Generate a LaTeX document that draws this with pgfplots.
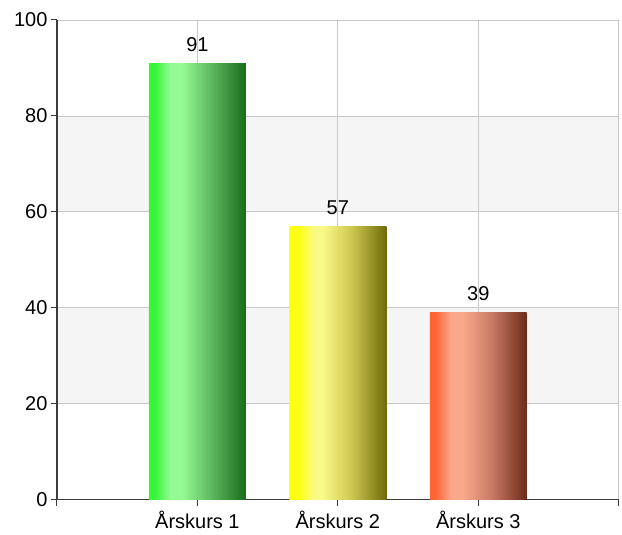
\documentclass[border=0pt]{standalone}
\usepackage{fontspec}
\setmainfont{Liberation Sans}
\usepackage{pgfplots}
\pgfplotsset{compat=1.18}

\definecolor{gridgray}{RGB}{200,200,200}
\definecolor{bandgray}{RGB}{245,245,245}
\definecolor{axisdark}{RGB}{60,60,60}

% bar gradients, left to right
\definecolor{gA}{RGB}{55,245,55}
\definecolor{gB}{RGB}{148,250,148}
\definecolor{gC}{RGB}{95,185,95}
\definecolor{gD}{RGB}{25,108,25}
\definecolor{yA}{RGB}{255,255,20}
\definecolor{yB}{RGB}{250,250,135}
\definecolor{yC}{RGB}{205,200,80}
\definecolor{yD}{RGB}{110,108,10}
\definecolor{rA}{RGB}{255,100,55}
\definecolor{rB}{RGB}{250,168,140}
\definecolor{rC}{RGB}{200,122,100}
\definecolor{rD}{RGB}{108,42,24}

\pgfdeclarehorizontalshading{greenbar}{100bp}{color(0bp)=(gA); color(25bp)=(gA); color(28bp)=(gA); color(36bp)=(gB); color(42bp)=(gB); color(57bp)=(gC); color(75bp)=(gD); color(100bp)=(gD)}
\pgfdeclarehorizontalshading{yellowbar}{100bp}{color(0bp)=(yA); color(25bp)=(yA); color(30bp)=(yA); color(38bp)=(yB); color(42bp)=(yB); color(57bp)=(yC); color(75bp)=(yD); color(100bp)=(yD)}
\pgfdeclarehorizontalshading{redbar}{100bp}{color(0bp)=(rA); color(25bp)=(rA); color(28bp)=(rA); color(36bp)=(rB); color(42bp)=(rB); color(57bp)=(rC); color(75bp)=(rD); color(100bp)=(rD)}

\begin{document}
\begin{tikzpicture}
\begin{axis}[
    set layers,
    scale only axis,
    width=562bp, height=480bp,
    xmin=0, xmax=4,
    ymin=0, ymax=100,
    xtick={0,1,2,3,4},
    xticklabels={,Årskurs 1,Årskurs 2,Årskurs 3,},
    ytick={0,20,40,60,80,100},
    axis lines=left,
    axis line style={-, draw=axisdark, line width=1.2bp},
    tick align=outside,
    major tick length=6bp,
    tick style={draw=axisdark, line width=1bp},
    grid=major,
    grid style={draw=gridgray, line width=0.8bp},
    tick label style={font=\fontsize{20bp}{23bp}\selectfont},
    x tick label style={yshift=-2bp},
    /pgf/number format/assume math mode=true,
    ybar, bar width=0.69, bar shift=0pt,
    nodes near coords,
    every node near coord/.append style={font=\fontsize{20bp}{23bp}\selectfont, yshift=8bp},
    clip=false,
]
\begin{pgfonlayer}{axis background}
\fill[bandgray] (axis cs:0,20) rectangle (axis cs:4,40);
\fill[bandgray] (axis cs:0,60) rectangle (axis cs:4,80);
\end{pgfonlayer}
\addplot[draw=none, shading=greenbar] coordinates {(1,91)};
\addplot[draw=none, shading=yellowbar] coordinates {(2,57)};
\addplot[draw=none, shading=redbar] coordinates {(3,39)};
\end{axis}
\path ([shift={(-57bp,-35bp)}]current axis.south west) rectangle ([shift={(565bp,500bp)}]current axis.south west);
\end{tikzpicture}
\end{document}
